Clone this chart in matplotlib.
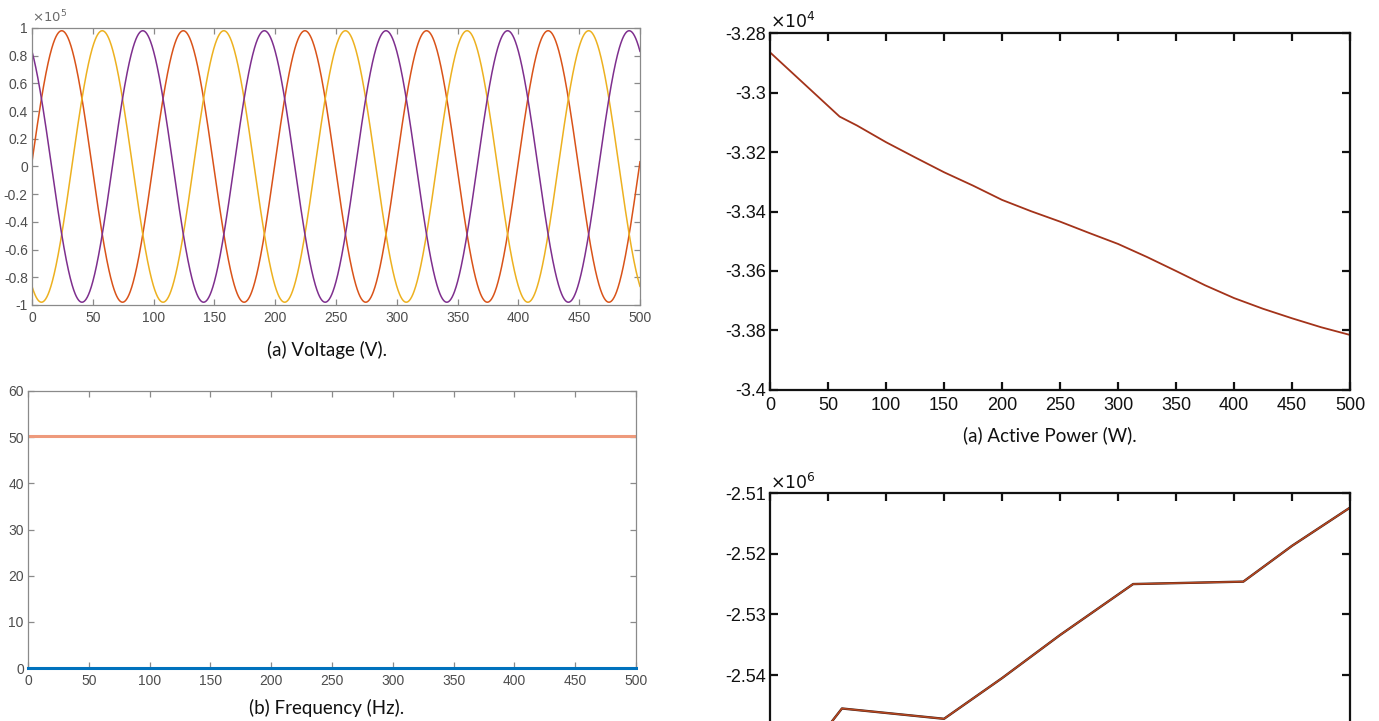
# Grid simulation results: three-phase voltage, frequency, active and reactive power
import numpy as np
import matplotlib.pyplot as plt

plt.rcParams['font.family'] = ['Liberation Sans', 'DejaVu Sans']
plt.rcParams['axes.unicode_minus'] = False

# --- voltage (three phases, peak, period in samples, phase angle in degrees)
voltage_peak = 0.98e5
voltage_period = 100.0
phase_angles = [2.0, -118.0, 122.0]
phase_colors = ['#D95319', '#EDB120', '#7E2F8E']

# --- frequency
freq_time = [0, 500]
freq_measured = [50.2, 50.2]
freq_reference = [0.0, 0.0]

# --- active power (W)
p_time = [0, 25, 60, 75, 100, 125, 150, 175, 200, 225, 250, 275, 300,
          325, 350, 375, 400, 425, 450, 475, 500]
p_active = [-32865, -32955, -33081, -33111, -33167, -33218, -33268, -33313,
            -33361, -33399, -33434, -33472, -33509, -33553, -33600, -33648,
            -33691, -33727, -33759, -33789, -33815]

# --- reactive power
q_time = [0, 49, 62, 150, 200, 250, 313, 408, 450, 500]
q_reactive = [-2.5610e6, -2.5487e6, -2.5455e6, -2.5472e6, -2.5405e6,
              -2.5334e6, -2.5250e6, -2.5246e6, -2.5187e6, -2.5124e6]

# --- tick values (y ticks given in units of the axis multiplier)
x_ticks = list(range(0, 501, 50))
v_ticks = [-1, -0.8, -0.6, -0.4, -0.2, 0, 0.2, 0.4, 0.6, 0.8, 1]
f_ticks = [0, 10, 20, 30, 40, 50, 60]
p_ticks = [-3.4, -3.38, -3.36, -3.34, -3.32, -3.3, -3.28]
q_ticks = [-2.54, -2.53, -2.52, -2.51]

TICK_FONT = 'Liberation Sans'


def set_ticks(ax, xt, yt, scale, size, xpad):
    ax.set_xticks(xt, ['%g' % v for v in xt], family=TICK_FONT, fontsize=size)
    ax.set_yticks([v * scale for v in yt], ['%g' % v for v in yt],
                  family=TICK_FONT, fontsize=size)
    ax.tick_params(axis='x', pad=xpad)


def matlab_box(ax, color, label_color, width, length):
    for s in ax.spines.values():
        s.set_color(color)
        s.set_linewidth(width)
    ax.tick_params(direction='in', top=True, right=True, length=length,
                   width=width, color=color, labelcolor=label_color)
    ax.tick_params(axis='y', pad=3)


fig = plt.figure(figsize=(13.79, 7.21), dpi=100)

# (a) voltage
ax1 = fig.add_axes([0.0232, 0.5770, 0.4409, 0.3842])
t = np.linspace(0, 500, 2001)
for ang, col in zip(phase_angles, phase_colors):
    ax1.plot(t, voltage_peak * np.sin(2 * np.pi * t / voltage_period + np.radians(ang)),
             color=col, lw=1.1)
ax1.set_xlim(0, 500)
ax1.set_ylim(-1e5, 1e5)
set_ticks(ax1, x_ticks, v_ticks, 1e5, 10, 4)
matlab_box(ax1, '#8a8a8a', '#4d4d4d', 0.9, 4)
ax1.text(0.0, 1.01, r'$\times10^{5}$', transform=ax1.transAxes,
         fontsize=9.5, color='#6a6a6a', va='bottom', ha='left')

# (b) frequency
ax2 = fig.add_axes([0.0203, 0.0735, 0.4409, 0.3842])
ax2.plot(freq_time, freq_measured, color='#EE9A7C', lw=2.2)
ax2.plot(freq_time, freq_reference, color='#0072BD', lw=2.2,
         zorder=5, clip_on=False)
ax2.set_xlim(0, 500)
ax2.set_ylim(0, 60)
set_ticks(ax2, x_ticks, f_ticks, 1, 10, 4)
matlab_box(ax2, '#8a8a8a', '#4d4d4d', 0.9, 4)

# active power
ax3 = fig.add_axes([0.5584, 0.4591, 0.4206, 0.4951])
ax3.plot(p_time, p_active, color='#A3331A', lw=1.3)
ax3.set_xlim(0, 500)
ax3.set_ylim(-3.4e4, -3.28e4)
set_ticks(ax3, x_ticks, p_ticks, 1e4, 13, 5)
matlab_box(ax3, '#111111', '#111111', 1.6, 6)
ax3.text(0.0, 1.005, r'$\times10^{4}$', transform=ax3.transAxes,
         fontsize=12.5, color='#111111', va='bottom', ha='left')

# reactive power (lower part runs past the page edge)
ax4 = fig.add_axes([0.5584, -0.1047, 0.4206, 0.4209])
ax4.plot(q_time, q_reactive, color='#3a1e1a', lw=1.7)
ax4.plot(q_time, q_reactive, color='#B8471F', lw=1.1)
ax4.set_xlim(0, 500)
ax4.set_ylim(-2.56e6, -2.51e6)
set_ticks(ax4, x_ticks, q_ticks, 1e6, 13, 5)
matlab_box(ax4, '#111111', '#111111', 1.6, 6)
ax4.tick_params(labelbottom=False)
ax4.text(0.0, 1.005, r'$\times10^{6}$', transform=ax4.transAxes,
         fontsize=12.5, color='#111111', va='bottom', ha='left')

# captions
cap = dict(fontsize=13.5, family='Lato', ha='center', va='center',
           color='#111111')
fig.text(0.2371, 0.5146, '(a) Voltage (V).', **cap)
fig.text(0.2371, 0.0180, '(b) Frequency (Hz).', **cap)
fig.text(0.7614, 0.3967, '(a) Active Power (W).', **cap)

fig.savefig('out.png', dpi=100)
